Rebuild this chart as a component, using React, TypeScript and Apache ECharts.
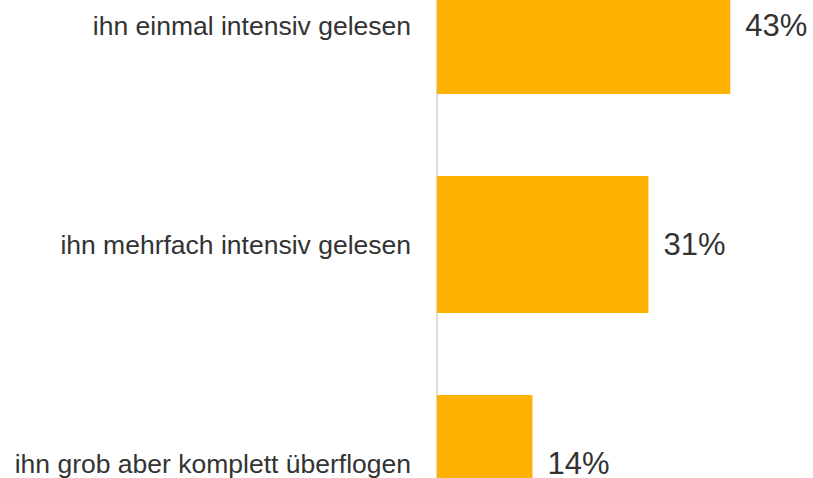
import React, { useEffect, useRef } from "react";
import * as echarts from "echarts";

const categories = [
  "ihn einmal intensiv gelesen",
  "ihn mehrfach intensiv gelesen",
  "ihn grob aber komplett überflogen",
];
const values = [43, 31, 14];

export default function App() {
  const ref = useRef<HTMLDivElement>(null);
  useEffect(() => {
    if (!ref.current) return;
    const chart = echarts.init(ref.current, null, { renderer: "svg" });
    chart.setOption({
      animation: false,
      backgroundColor: "#ffffff",
      grid: { left: 437, width: 341, top: 16, height: 657 },
      xAxis: {
        type: "value",
        min: 0,
        max: 50,
        show: false,
      },
      yAxis: {
        type: "category",
        data: categories,
        inverse: true,
        axisLine: { show: true, lineStyle: { color: "#dcdcdc", width: 2 } },
        axisTick: { show: false },
        splitLine: { show: false },
        axisLabel: {
          margin: 26,
          color: "#333333",
          fontSize: 26.5,
          fontFamily: "Liberation Sans, Arial, sans-serif",
        },
      },
      series: [
        {
          type: "bar",
          data: values,
          barCategoryGap: "37.4%",
          itemStyle: { color: "#FFB100" },
          label: {
            show: true,
            position: "right",
            distance: 15,
            formatter: "{c}%",
            color: "#333333",
            fontSize: 31,
            fontFamily: "Liberation Sans, Arial, sans-serif",
          },
        },
      ],
    });
    return () => chart.dispose();
  }, []);
  return (
    <div
      style={{
        position: "fixed",
        left: 0,
        top: 0,
        width: 813,
        height: 478,
        overflow: "hidden",
        background: "#fff",
      }}
    >
      <div
        ref={ref}
        style={{ position: "absolute", left: 0, top: -100, width: 813, height: 700 }}
      />
    </div>
  );
}
